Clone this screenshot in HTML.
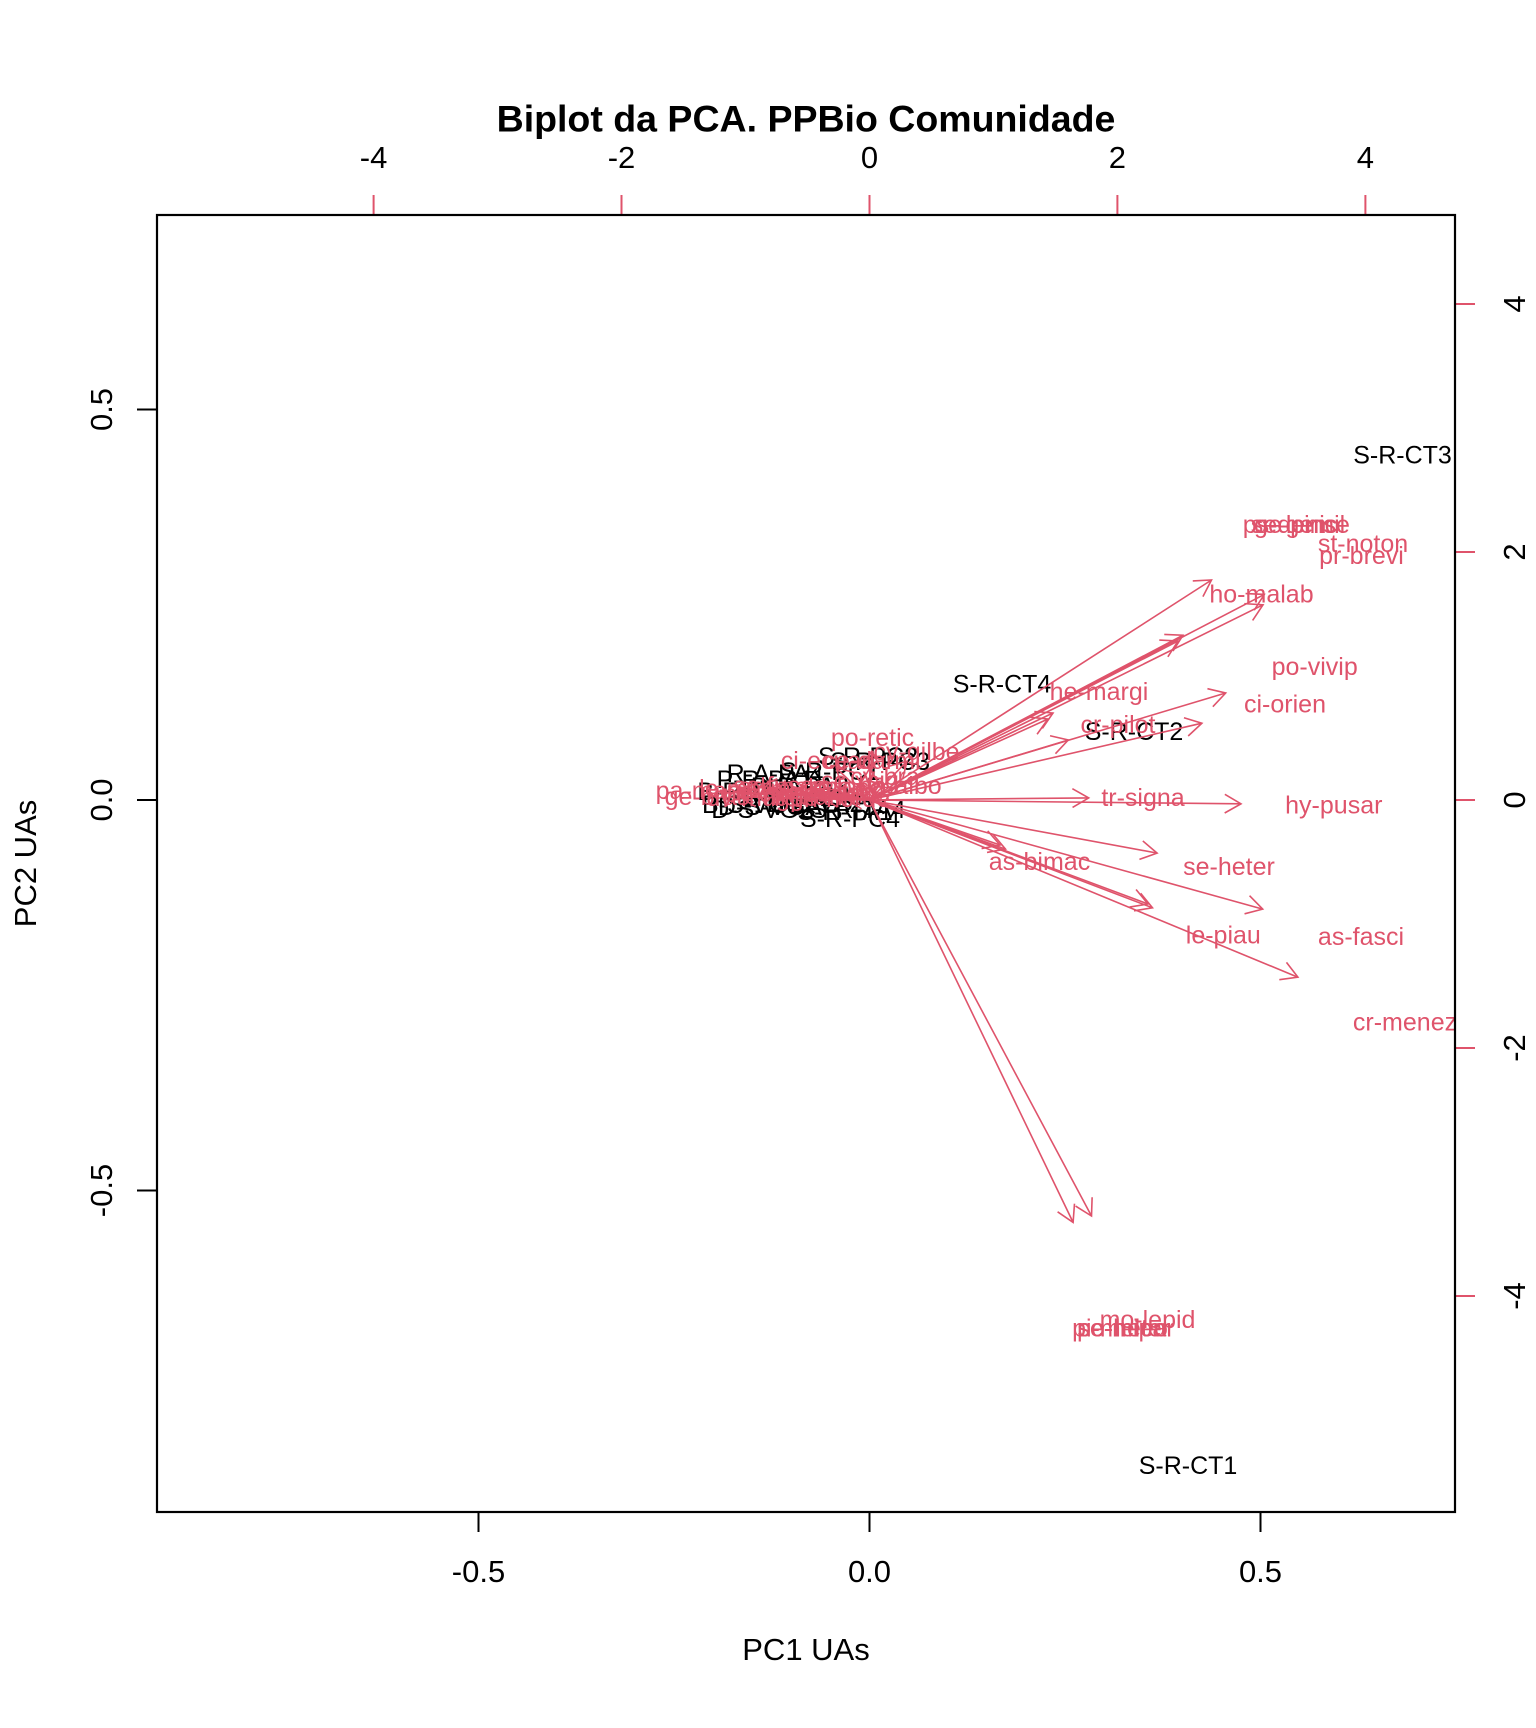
<!DOCTYPE html>
<html>
<head>
<meta charset="utf-8">
<style>
html,body{margin:0;padding:0;background:#fff;}
svg{display:block;}
text{font-family:"Liberation Sans",Arial,Helvetica,sans-serif;}
</style>
</head>
<body>
<svg width="1536" height="1728" viewBox="0 0 1536 1728" xmlns="http://www.w3.org/2000/svg">
<defs>
<marker id="ah" markerUnits="userSpaceOnUse" markerWidth="40" markerHeight="40" viewBox="-20 -20 40 40" refX="0" refY="0" orient="auto" overflow="visible">
<path d="M-16.24,-9.375 L0,0 L-16.24,9.375" fill="none" stroke="#DF536B" stroke-width="1.6"/>
</marker>
<clipPath id="plotclip"><rect x="157" y="215" width="1298" height="1297"/></clipPath>
</defs>
<rect x="0" y="0" width="1536" height="1728" fill="#fff"/>

<!-- Title -->
<text x="806" y="131.5" font-size="37.5" font-weight="bold" text-anchor="middle" fill="#000">Biplot da PCA. PPBio Comunidade</text>

<!-- Bottom axis -->
<g stroke="#000" stroke-width="2">
<line x1="478.5" y1="1512" x2="478.5" y2="1532"/>
<line x1="869.5" y1="1512" x2="869.5" y2="1532"/>
<line x1="1260.5" y1="1512" x2="1260.5" y2="1532"/>
<line x1="137" y1="409.5" x2="157" y2="409.5"/>
<line x1="137" y1="800" x2="157" y2="800"/>
<line x1="137" y1="1190.5" x2="157" y2="1190.5"/>
</g>
<g font-size="31" fill="#000" text-anchor="middle">
<text x="478.5" y="1582">-0.5</text>
<text x="869.5" y="1582">0.0</text>
<text x="1260.5" y="1582">0.5</text>
<text transform="translate(112,409.5) rotate(-90)">0.5</text>
<text transform="translate(112,800) rotate(-90)">0.0</text>
<text transform="translate(112,1190.5) rotate(-90)">-0.5</text>
<text x="806" y="1660">PC1 UAs</text>
<text transform="translate(36,863.5) rotate(-90)">PC2 UAs</text>
</g>

<!-- Top / right axes (red ticks) -->
<g stroke="#DF536B" stroke-width="2">
<line x1="373.6" y1="195" x2="373.6" y2="215"/>
<line x1="621.5" y1="195" x2="621.5" y2="215"/>
<line x1="869.5" y1="195" x2="869.5" y2="215"/>
<line x1="1117.4" y1="195" x2="1117.4" y2="215"/>
<line x1="1365.4" y1="195" x2="1365.4" y2="215"/>
<line x1="1455" y1="304" x2="1475" y2="304"/>
<line x1="1455" y1="552" x2="1475" y2="552"/>
<line x1="1455" y1="800" x2="1475" y2="800"/>
<line x1="1455" y1="1048" x2="1475" y2="1048"/>
<line x1="1455" y1="1296" x2="1475" y2="1296"/>
</g>
<g font-size="31" fill="#000" text-anchor="middle">
<text x="373.6" y="168">-4</text>
<text x="621.5" y="168">-2</text>
<text x="869.5" y="168">0</text>
<text x="1117.4" y="168">2</text>
<text x="1365.4" y="168">4</text>
<text transform="translate(1525,304) rotate(-90)">4</text>
<text transform="translate(1525,552) rotate(-90)">2</text>
<text transform="translate(1525,800) rotate(-90)">0</text>
<text transform="translate(1525,1048) rotate(-90)">-2</text>
<text transform="translate(1525,1296) rotate(-90)">-4</text>
</g>

<g clip-path="url(#plotclip)">
<!-- Black observation labels -->
<g font-size="25" fill="#000" text-anchor="middle">
<text x="1402.5" y="463.3">S-R-CT3</text>
<text x="1002" y="692.3">S-R-CT4</text>
<text x="1134" y="740">S-R-CT2</text>
<text x="1188" y="1474">S-R-CT1</text>
<text x="775" y="782">R-A-PA4</text>
<text x="765" y="788">P-R-PA1</text>
<text x="868" y="765">S-R-PC2</text>
<text x="880" y="770">S-R-PC3</text>
<text x="752" y="813">B-S-VG1</text>
<text x="762" y="818">D-S-VG2</text>
<text x="770" y="815">D-S-VGA</text>
<text x="845" y="820">S-R-TA1</text>
<text x="858" y="818">S-R-TA4</text>
<text x="850" y="827">S-R-PC4</text>
<text x="745" y="800">B-R-TA2</text>
<text x="800" y="795">D-R-PA3</text>
<text x="830" y="780">S-R-PC1</text>
<text x="790" y="806">B-S-VA1</text>
<text x="815" y="812">D-S-VA2</text>
</g>

<!-- Arrows -->
<g stroke="#DF536B" stroke-width="1.6" fill="none" marker-end="url(#ah)">
<line x1="869.5" y1="800" x2="1211.5" y2="580"/>
<line x1="869.5" y1="800" x2="1264.3" y2="594.4"/>
<line x1="869.5" y1="800" x2="1263" y2="604.8"/>
<line x1="869.5" y1="800" x2="1183" y2="635.2"/>
<line x1="869.5" y1="800" x2="1178" y2="641"/>
<line x1="869.5" y1="800" x2="1225.7" y2="693"/>
<line x1="869.5" y1="800" x2="1201.9" y2="723.2"/>
<line x1="869.5" y1="800" x2="1053" y2="713"/>
<line x1="869.5" y1="800" x2="1048" y2="719"/>
<line x1="869.5" y1="800" x2="1068.3" y2="740"/>
<line x1="869.5" y1="800" x2="1088.7" y2="797.9"/>
<line x1="869.5" y1="800" x2="1241" y2="803.8"/>
<line x1="869.5" y1="800" x2="1157.1" y2="853.1"/>
<line x1="869.5" y1="800" x2="1262.7" y2="909.1"/>
<line x1="869.5" y1="800" x2="1152.5" y2="907.8"/>
<line x1="869.5" y1="800" x2="1148" y2="904"/>
<line x1="869.5" y1="800" x2="1297.9" y2="977.2"/>
<line x1="869.5" y1="800" x2="1005.5" y2="849.1"/>
<line x1="869.5" y1="800" x2="1000" y2="845"/>
<line x1="869.5" y1="800" x2="1073.1" y2="1222.4"/>
<line x1="869.5" y1="800" x2="1091.5" y2="1216"/>
<line x1="869.5" y1="800" x2="871.9" y2="751.2"/>
<line x1="869.5" y1="800" x2="907.1" y2="761.1"/>
<line x1="869.5" y1="800" x2="737.9" y2="792"/>
<line x1="869.5" y1="800" x2="739.5" y2="796.8"/>
<line x1="869.5" y1="800" x2="836.3" y2="768"/>
<line x1="869.5" y1="800" x2="869.9" y2="768"/>
<line x1="869.5" y1="800" x2="770.1" y2="790.4"/>
<line x1="869.5" y1="800" x2="789.9" y2="794.4"/>
<line x1="869.5" y1="800" x2="809.9" y2="788.8"/>
<line x1="869.5" y1="800" x2="830.3" y2="793.6"/>
<line x1="869.5" y1="800" x2="849.9" y2="789.6"/>
<line x1="869.5" y1="800" x2="798.1" y2="788"/>
<line x1="869.5" y1="800" x2="821.9" y2="796.8"/>
<line x1="869.5" y1="800" x2="778.1" y2="797.6"/>
<line x1="869.5" y1="800" x2="845.9" y2="798.4"/>
<line x1="869.5" y1="800" x2="881.9" y2="780.8"/>
<line x1="869.5" y1="800" x2="893.9" y2="788"/>
<line x1="869.5" y1="800" x2="862" y2="784"/>
<line x1="869.5" y1="800" x2="760" y2="786"/>
</g>

<!-- Red variable labels -->
<g font-size="25" fill="#DF536B" text-anchor="middle">
<text x="1290" y="533">ps-denic</text>
<text x="1298" y="533">se-gemil</text>
<text x="1302" y="533">ge-pinse</text>
<text x="1363" y="552">st-noton</text>
<text x="1361.5" y="564">pr-brevi</text>
<text x="1261.5" y="602.3">ho-malab</text>
<text x="1314.7" y="675">po-vivip</text>
<text x="1285" y="712.7">ci-orien</text>
<text x="1099" y="700">he-margi</text>
<text x="1118" y="733">cr-pilot</text>
<text x="1143" y="806">tr-signa</text>
<text x="1333.8" y="813.3">hy-pusar</text>
<text x="1229" y="875">se-heter</text>
<text x="1361" y="945">as-fasci</text>
<text x="1223.3" y="943.3">le-piau</text>
<text x="1405" y="1030.5">cr-menez</text>
<text x="1039.5" y="870">as-bimac</text>
<text x="1123.5" y="1336.7">po-heter</text>
<text x="1120" y="1336.7">pi-meleo</text>
<text x="1126" y="1336.7">se-mipar</text>
<text x="1147.5" y="1328">mo-lepid</text>
<text x="872.5" y="746">po-retic</text>
<text x="916.5" y="760">cy-gilbe</text>
<text x="705" y="799">pa-mand</text>
<text x="707" y="805">ge-bras</text>
<text x="828" y="769">ci-ecuad</text>
<text x="872" y="769">ce-darmi</text>
<text x="745" y="797">le-marm</text>
<text x="770" y="802">ph-cuvie</text>
<text x="795" y="795">ad-marmo</text>
<text x="820" y="801">pr-gaudi</text>
<text x="845" y="796">le-fusc</text>
<text x="780" y="794">sc-fusco</text>
<text x="810" y="805">rh-marin</text>
<text x="755" y="806">dv-mugg</text>
<text x="840" y="807">ph-norde</text>
<text x="885" y="785">cy-bra</text>
<text x="900" y="794">bo-albo</text>
<text x="860" y="789">sc-xsig</text>
</g>
</g>

<!-- Plot box -->
<rect x="157" y="215" width="1298" height="1297" fill="none" stroke="#000" stroke-width="2.2"/>
</svg>
</body>
</html>
